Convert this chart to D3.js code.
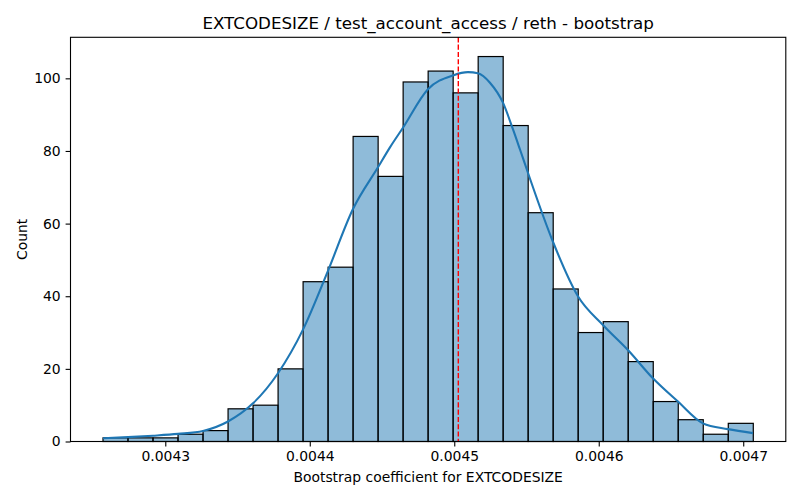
<!DOCTYPE html>
<html>
<head>
<meta charset="utf-8">
<script src="https://cdn.jsdelivr.net/npm/d3@7"></script>
<style>
  body { margin: 0; background: #fff; }
  text { font-family: "DejaVu Sans", sans-serif; fill: #000; }
</style>
</head>
<body>
<svg width="800" height="500"></svg>
<script>
// histogram bins (left edge of first bin, bin width, counts per bin)
const binStart = 0.0042569;
const binWidth = 0.00001731;
const counts = [1, 1, 1, 2, 3, 9, 10, 20, 44, 48, 84, 73, 99, 102, 96, 106, 87, 63, 42, 30, 33, 22, 11, 6, 2, 5];

// kde line (x value, count)
const kdeX = [0.0042569, 0.0042742, 0.0042915, 0.0043088, 0.0043261, 0.0043434, 0.0043607, 0.0043780,
  0.0043953, 0.0044126, 0.0044299, 0.0044472, 0.0044555, 0.0044645, 0.0044818, 0.0044991, 0.0045095,
  0.0045164, 0.0045247, 0.0045337, 0.0045406, 0.0045455, 0.0045510, 0.0045683, 0.0045856, 0.0046029,
  0.0046202, 0.0046375, 0.0046548, 0.0046721, 0.0046894, 0.0047067];
const kdeY = [0.9, 1.2, 1.6, 2.1, 2.9, 5.5, 10.5, 18.8,
  30.8, 47, 64, 75.5, 81, 86.4, 97, 100.8, 101.7,
  101.4, 98.8, 93.3, 86, 80.4, 74, 55, 40, 32.1,
  25.2, 17.4, 11, 5, 3.4, 2.3];

// bootstrap point estimate (red dashed line)
const estimate = 0.0045028;

const xTicks = [0.0043, 0.0044, 0.0045, 0.0046, 0.0047];
const yTicks = [0, 20, 40, 60, 80, 100];

const title = 'EXTCODESIZE / test_account_access / reth - bootstrap';
const xLabel = 'Bootstrap coefficient for EXTCODESIZE';
const yLabel = 'Count';

// plot area (window.top is taken, so prefixed names)
const plotLeft = 70.5, plotRight = 785.8, plotTop = 37.3, plotBottom = 441.5;
const fontPx = 13.9;

const bins = counts.map((c, i) => ({ x0: binStart + i * binWidth, x1: binStart + (i + 1) * binWidth, count: c }));

// matplotlib style 5% margins
const xMin = binStart, xMax = binStart + counts.length * binWidth;
const pad = (xMax - xMin) * 0.05;
const xScale = d3.scaleLinear()
  .domain([xMin - pad, xMax + pad])
  .range([plotLeft, plotRight]);

const yScale = d3.scaleLinear()
  .domain([0, d3.max(counts) * 1.05])
  .range([plotBottom, plotTop]);

const svg = d3.select('svg');

// bars
svg.append('g')
  .selectAll('rect')
  .data(bins)
  .enter()
  .append('rect')
  .attr('x', d => xScale(d.x0))
  .attr('width', d => xScale(d.x1) - xScale(d.x0))
  .attr('y', d => yScale(d.count))
  .attr('height', d => yScale(0) - yScale(d.count))
  .style('fill', '#1f77b4')
  .style('fill-opacity', 0.5)
  .style('stroke', '#000')
  .style('stroke-width', 1.2);

// kde
const line = d3.line()
  .x(i => xScale(kdeX[i]))
  .y(i => yScale(kdeY[i]))
  .curve(d3.curveMonotoneX);

svg.append('path')
  .attr('d', line(d3.range(kdeX.length)))
  .style('fill', 'none')
  .style('stroke', '#1f77b4')
  .style('stroke-width', 2.1);

// estimate line
svg.append('line')
  .attr('x1', xScale(estimate))
  .attr('x2', xScale(estimate))
  .attr('y1', plotTop)
  .attr('y2', plotBottom)
  .style('stroke', 'red')
  .style('stroke-width', 1.4)
  .style('stroke-dasharray', '5.1,2.2');

// axes
const xAxis = svg.append('g')
  .attr('transform', `translate(0,${plotBottom})`)
  .call(d3.axisBottom(xScale).tickValues(xTicks).tickFormat(d3.format('.4f'))
    .tickSize(4.9).tickPadding(4.9).tickSizeOuter(0));

const yAxis = svg.append('g')
  .attr('transform', `translate(${plotLeft},0)`)
  .call(d3.axisLeft(yScale).tickValues(yTicks).tickFormat(d3.format('d'))
    .tickSize(4.9).tickPadding(4.9).tickSizeOuter(0));

[xAxis, yAxis].forEach(g => {
  g.select('.domain').remove();
  g.selectAll('line').style('stroke', '#000').style('stroke-width', 1.1);
  g.selectAll('text').style('font-size', fontPx + 'px').style('font-family', '"DejaVu Sans", sans-serif');
});

// frame
svg.append('rect')
  .attr('x', plotLeft)
  .attr('y', plotTop)
  .attr('width', plotRight - plotLeft)
  .attr('height', plotBottom - plotTop)
  .style('fill', 'none')
  .style('stroke', '#000')
  .style('stroke-width', 1.1);

// labels
svg.append('text')
  .attr('x', (plotLeft + plotRight) / 2)
  .attr('y', 29)
  .attr('text-anchor', 'middle')
  .style('font-size', '16.7px')
  .text(title);

svg.append('text')
  .attr('x', (plotLeft + plotRight) / 2)
  .attr('y', 481.5)
  .attr('text-anchor', 'middle')
  .style('font-size', fontPx + 'px')
  .text(xLabel);

svg.append('text')
  .attr('transform', `translate(27,${(plotTop + plotBottom) / 2}) rotate(-90)`)
  .attr('text-anchor', 'middle')
  .style('font-size', fontPx + 'px')
  .text(yLabel);
</script>
</body>
</html>
